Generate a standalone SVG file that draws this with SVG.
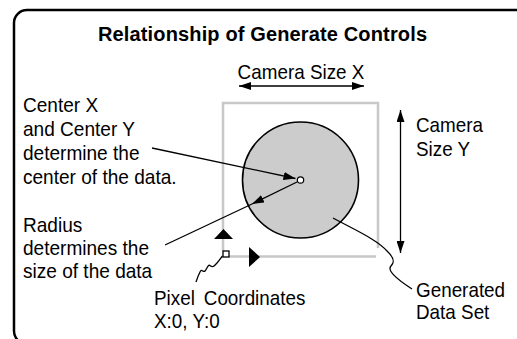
<svg xmlns="http://www.w3.org/2000/svg" width="517" height="339" viewBox="0 0 517 339">
<defs>
<style>
text{font-family:"Liberation Sans",Arial,sans-serif;font-size:20.5px;fill:#000}
.title{font-weight:bold;font-size:20px}
.ln{fill:none;stroke:#000;stroke-width:1.3}
.gray{fill:none;stroke:#c8c8c8;stroke-width:2.5}
</style>
<marker id="ah" viewBox="0 0 12 8" refX="12" refY="4" markerWidth="12" markerHeight="8" markerUnits="userSpaceOnUse" orient="auto-start-reverse">
<path d="M0,0 L12,4 L0,8 z" fill="#000"/>
</marker>
</defs>
<rect x="14" y="10" width="520" height="334" rx="13" fill="#fff" stroke="#000" stroke-width="2.5"/>
<text class="title" x="98" y="40.5" textLength="329" lengthAdjust="spacing">Relationship of Generate Controls</text>
<g id="frame">
<path class="gray" d="M223,251 V103 H378 V248 M229,256.5 H376"/>
</g>
<g id="dataset">
<circle cx="300.5" cy="180" r="58" fill="#cccccc" stroke="#000" stroke-width="1.6"/>
<circle cx="300.5" cy="180" r="3.2" fill="#fff" stroke="#000" stroke-width="1.2"/>
</g>
<g id="origin">
<rect x="223" y="251" width="6" height="6" fill="#fff" stroke="#000" stroke-width="1.3"/>
<polygon points="223.5,229 214,239 233,239" fill="#000"/>
<polygon points="249,247 249,267 260,257" fill="#000"/>
</g>
<g id="connectors">
<line class="ln" x1="239" y1="86" x2="364" y2="86" marker-start="url(#ah)" marker-end="url(#ah)"/>
<line class="ln" x1="400.5" y1="110" x2="400.5" y2="253" marker-start="url(#ah)" marker-end="url(#ah)"/>
<line class="ln" x1="152" y1="148" x2="295.5" y2="178.5" marker-end="url(#ah)"/>
<line class="ln" x1="297" y1="182" x2="252" y2="204" marker-end="url(#ah)"/>
<line class="ln" x1="252" y1="204" x2="165" y2="245"/>
<path class="ln" d="M222.5,256 C220,259 219,261 217,263 C214,266 213,268 210,265.5 C208,264 207,269 205,271 C203,273 202,268 200,272 C198,276 197,279 196,282"/>
<path class="ln" d="M333,218 C355,230 378,240 388,252 C394,258 395,262 391,266 C387,270 395,278 412,289"/>
</g>
<g id="labels">
<g transform="translate(301,0) scale(0.92,1)"><text x="0" y="79" text-anchor="middle">Camera Size X</text></g>
<g transform="translate(416,0) scale(0.92,1)">
<text x="0" y="132">Camera</text>
<text x="0" y="156">Size Y</text>
<text x="0" y="297.5">Generated</text>
<text x="0" y="319.5">Data Set</text>
</g>
<g transform="translate(23,0) scale(0.93,1)">
<text x="0" y="112.5">Center X</text>
<text x="0" y="136.5">and Center Y</text>
<text x="0" y="160.5">determine the</text>
<text x="0" y="184.5">center of the data.</text>
<text x="0" y="232">Radius</text>
<text x="0" y="255">determines the</text>
<text x="0" y="278">size of the data</text>
</g>
<g transform="translate(154,0) scale(0.92,1)">
<text x="0" y="305" word-spacing="4">Pixel Coordinates</text>
<text x="0" y="328">X:0, Y:0</text>
</g>
</g>
</svg>
